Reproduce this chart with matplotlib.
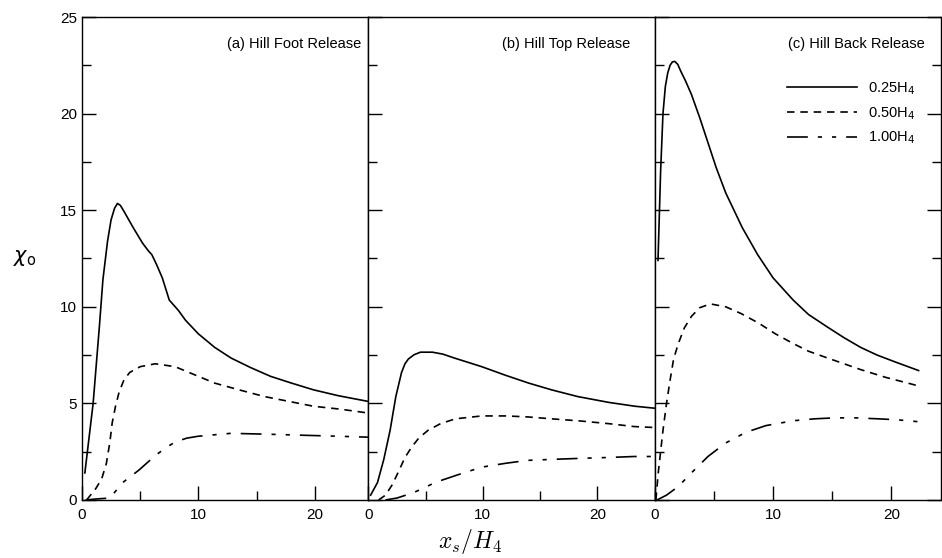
import numpy as np
import matplotlib.pyplot as plt
from matplotlib.ticker import MultipleLocator

plt.rcParams['font.family'] = ['Liberation Sans', 'DejaVu Sans']

# (a) Hill Foot Release
a_x_025 = [0.25, 0.96, 1.5, 1.8, 2.2, 2.5, 2.8, 3.05, 3.3, 3.6, 4.4, 5.2, 5.7, 6.0, 6.4, 6.9, 7.5, 8.3, 8.9, 10.0, 11.4, 12.8, 14.5, 16.2, 18.0, 19.9, 22.0, 24.6]
a_y_025 = [1.4, 5.0, 9.0, 11.4, 13.4, 14.5, 15.1, 15.35, 15.25, 14.95, 14.1, 13.3, 12.9, 12.7, 12.2, 11.5, 10.35, 9.8, 9.3, 8.6, 7.9, 7.35, 6.85, 6.4, 6.05, 5.7, 5.4, 5.1]
a_x_050 = [0.4, 1.2, 1.7, 2.1, 2.4, 2.6, 2.9, 3.2, 3.6, 4.1, 5.0, 6.3, 8.0, 9.6, 11.4, 13.5, 15.7, 17.8, 19.9, 22.2, 24.6]
a_y_050 = [0.0, 0.6, 1.1, 1.9, 3.0, 4.0, 4.9, 5.6, 6.2, 6.6, 6.9, 7.05, 6.9, 6.5, 6.05, 5.7, 5.35, 5.1, 4.85, 4.7, 4.5]
a_x_100 = [0.3, 1.2, 2.4, 3.5, 4.9, 6.3, 7.2, 8.0, 9.0, 10.0, 12.8, 16.2, 19.0, 22.0, 24.6]
a_y_100 = [0.0, 0.05, 0.1, 0.9, 1.55, 2.3, 2.7, 3.0, 3.2, 3.3, 3.45, 3.4, 3.35, 3.3, 3.25]

# (b) Hill Top Release
b_x_025 = [0.2, 0.8, 1.35, 1.9, 2.4, 2.9, 3.2, 3.5, 4.0, 4.55, 5.6, 6.5, 7.5, 9.9, 12.0, 14.0, 16.0, 18.3, 21.0, 23.3, 25.0]
b_y_025 = [0.25, 0.9, 2.1, 3.6, 5.35, 6.6, 7.05, 7.3, 7.52, 7.65, 7.65, 7.55, 7.35, 6.9, 6.45, 6.05, 5.7, 5.35, 5.05, 4.85, 4.75]
b_x_050 = [0.9, 1.5, 2.1, 2.7, 3.2, 3.8, 4.4, 5.2, 6.3, 7.6, 9.9, 12.0, 13.9, 16.0, 18.3, 21.0, 23.2, 25.0]
b_y_050 = [0.0, 0.25, 0.8, 1.55, 2.2, 2.75, 3.2, 3.6, 3.95, 4.2, 4.35, 4.35, 4.3, 4.2, 4.1, 3.95, 3.8, 3.75]
b_x_100 = [1.5, 2.5, 3.8, 4.8, 5.8, 7.8, 9.9, 12.0, 13.9, 16.0, 18.3, 21.0, 23.2, 25.0]
b_y_100 = [0.0, 0.1, 0.35, 0.6, 0.9, 1.3, 1.7, 1.9, 2.05, 2.1, 2.15, 2.2, 2.25, 2.25]

# (c) Hill Back Release
c_x_025 = [0.28, 0.5, 0.7, 0.9, 1.1, 1.3, 1.5, 1.7, 1.95, 2.2, 2.6, 3.1, 3.8, 4.5, 5.2, 6.0, 7.4, 8.7, 10.0, 11.7, 13.0, 14.6, 16.0, 17.4, 18.8, 20.3, 22.3]
c_y_025 = [12.4, 17.0, 20.0, 21.4, 22.1, 22.5, 22.68, 22.7, 22.55, 22.2, 21.7, 21.0, 19.8, 18.5, 17.2, 15.9, 14.1, 12.7, 11.5, 10.35, 9.6, 8.95, 8.4, 7.9, 7.5, 7.15, 6.7]
c_x_050 = [0.1, 0.3, 0.7, 1.0, 1.3, 1.6, 2.0, 2.5, 3.1, 3.8, 4.7, 6.0, 7.3, 8.8, 10.2, 11.7, 13.0, 14.6, 16.0, 17.4, 19.5, 21.7, 22.3]
c_y_050 = [0.0, 1.4, 3.6, 5.0, 6.2, 7.3, 8.1, 8.9, 9.5, 9.95, 10.15, 10.0, 9.65, 9.15, 8.6, 8.1, 7.7, 7.35, 7.05, 6.75, 6.35, 6.0, 5.9]
c_x_100 = [0.2, 1.0, 2.0, 3.1, 4.5, 6.0, 7.7, 9.4, 11.7, 13.5, 15.2, 17.0, 18.9, 20.5, 22.3]
c_y_100 = [0.0, 0.25, 0.7, 1.4, 2.25, 2.95, 3.5, 3.85, 4.1, 4.2, 4.25, 4.25, 4.2, 4.15, 4.05]

panel_titles = ['(a) Hill Foot Release', '(b) Hill Top Release', '(c) Hill Back Release']
title_xpos = [0.976, 0.913, 0.943]
x_limits = [24.6, 25.0, 24.2]
series_labels = ['0.25H$_4$', '0.50H$_4$', '1.00H$_4$']

panels = [
    [(a_x_025, a_y_025), (a_x_050, a_y_050), (a_x_100, a_y_100)],
    [(b_x_025, b_y_025), (b_x_050, b_y_050), (b_x_100, b_y_100)],
    [(c_x_025, c_y_025), (c_x_050, c_y_050), (c_x_100, c_y_100)],
]
styles = ['-', (0, (4.5, 3.5)), (0, (12.5, 6, 2.5, 6, 2.5, 6))]

fig, axes = plt.subplots(1, 3, sharey=True, figsize=(9.42, 5.58), dpi=100)
fig.subplots_adjust(left=0.087, right=0.999, bottom=0.104, top=0.9695, wspace=0)

for i, ax in enumerate(axes):
    for (xs, ys), ls, lab in zip(panels[i], styles, series_labels):
        ax.plot(xs, ys, color='black', lw=1.2, linestyle=ls, label=lab)
    ax.set_xlim(0, x_limits[i])
    ax.set_ylim(0, 25)
    ax.xaxis.set_major_locator(MultipleLocator(10))
    ax.xaxis.set_minor_locator(MultipleLocator(5))
    ax.yaxis.set_major_locator(MultipleLocator(5))
    ax.yaxis.set_minor_locator(MultipleLocator(2.5))
    ax.tick_params(which='major', direction='in', length=10, width=1, labelsize=11)
    ax.tick_params(which='minor', direction='in', length=6.5, width=1)
    ax.tick_params(axis='x', which='both', pad=6)
    if i == 2:
        ax.tick_params(axis='y', which='both', right=True)
    for sp in ax.spines.values():
        sp.set_linewidth(1)
    ax.text(title_xpos[i], 0.944, panel_titles[i], transform=ax.transAxes,
            ha='right', va='center', fontsize=10.5)

leg = axes[2].legend(loc='upper right', bbox_to_anchor=(0.945, 0.89), frameon=False,
                     fontsize=10.5, handlelength=4.8, handletextpad=0.75,
                     labelspacing=0.55, borderaxespad=0.3)

axes[0].set_ylabel(r'$\chi_\mathrm{o}$', rotation=0, fontsize=15, labelpad=22)
axes[0].yaxis.set_label_coords(-0.2, 0.48)
fig.text(470 / 942, 1 - 542 / 558, r'$x_s/H_4$', ha='center', va='center',
         fontsize=17, math_fontfamily='cm')

plt.savefig('out.png', dpi=100)
